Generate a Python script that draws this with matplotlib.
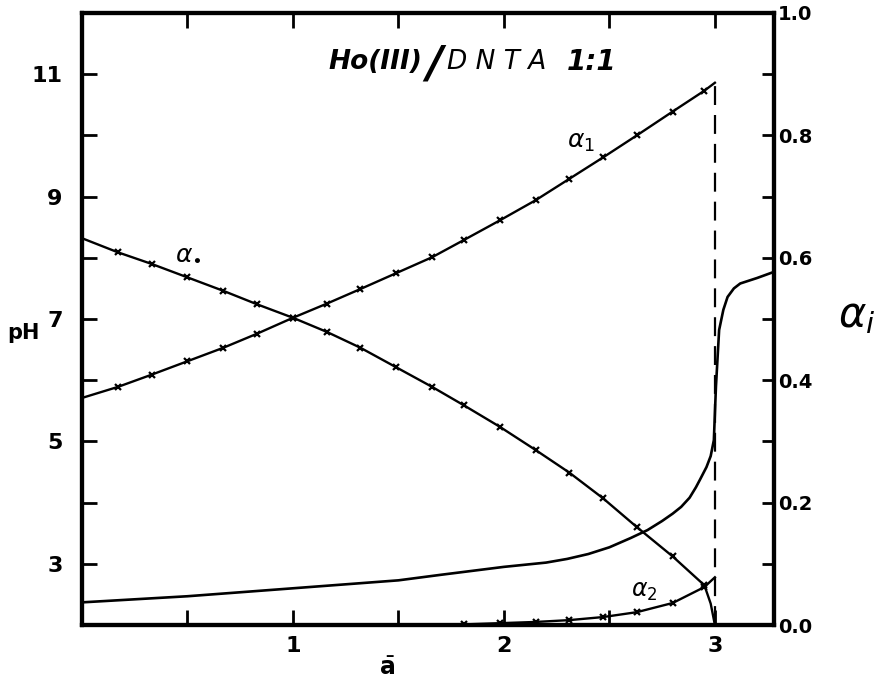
import matplotlib
matplotlib.use('Agg')
import matplotlib.pyplot as plt
from matplotlib.ticker import MultipleLocator

# titration curve (pH against a-bar)
a_ph = [0.0, 0.5, 1.0, 1.5, 1.7, 2.0, 2.2, 2.3, 2.4, 2.5, 2.6, 2.68, 2.75, 2.8, 2.84,
        2.88, 2.91, 2.93, 2.96, 2.98, 2.995, 3.005, 3.02, 3.04, 3.06, 3.09, 3.12, 3.2, 3.28]
ph = [2.37, 2.47, 2.60, 2.73, 2.82, 2.95, 3.02, 3.08, 3.16, 3.27, 3.42, 3.55, 3.70, 3.82, 3.93,
      4.08, 4.25, 4.38, 4.58, 4.76, 5.02, 5.9, 6.82, 7.15, 7.36, 7.50, 7.58, 7.67, 7.77]

# species fractions, marked points share the same a-bar values
a_mk = [0.17, 0.33, 0.5, 0.67, 0.83, 1.0, 1.16, 1.32, 1.49, 1.66,
        1.81, 1.98, 2.15, 2.31, 2.47, 2.63, 2.8, 2.95]
a0 = [0.0] + a_mk + [2.98, 3.0]
alpha0 = [0.632, 0.609, 0.590, 0.568, 0.546, 0.524, 0.502, 0.479, 0.453, 0.421,
          0.389, 0.359, 0.324, 0.286, 0.249, 0.207, 0.160, 0.112, 0.065, 0.035, 0.0]
a1 = [0.0] + a_mk + [3.0]
alpha1 = [0.371, 0.389, 0.409, 0.431, 0.453, 0.476, 0.502, 0.525, 0.549, 0.575,
          0.601, 0.629, 0.661, 0.694, 0.729, 0.764, 0.800, 0.839, 0.873, 0.886]
a2 = [1.66] + a_mk[10:] + [3.0]
alpha2 = [0.0, 0.001, 0.003, 0.005, 0.008, 0.013, 0.021, 0.036, 0.062, 0.078]

a_end = 3.0
alpha_end = 0.886

fig = plt.figure(figsize=(8.88, 6.83), dpi=100)
ax = fig.add_axes([0.0923, 0.0849, 0.7793, 0.8961])
ax2 = ax.twinx()

ax.plot(a_ph, ph, color='black', lw=1.9)
kw = dict(color='black', lw=1.7, marker='x', ms=5, mew=1.6)
ax2.plot(a0, alpha0, markevery=slice(1, len(a_mk) + 1), **kw)
ax2.plot(a1, alpha1, markevery=slice(1, len(a_mk) + 1), **kw)
ax2.plot(a2, alpha2, markevery=slice(1, len(a2) - 1), **kw)
ax2.plot([a_end, a_end], [0, alpha_end], color='black', lw=1.6, dashes=(8.5, 4.5))

ax.set_xlim(0, 3.28)
ax.set_ylim(2, 12)
ax2.set_ylim(0, 1)

ax.set_xticks([1, 2, 3])
ax.xaxis.set_minor_locator(MultipleLocator(0.5))
ax.set_yticks([3, 5, 7, 9, 11])
ax.yaxis.set_minor_locator(MultipleLocator(1))
ax2.set_yticks([0, 0.2, 0.4, 0.6, 0.8, 1.0])
ax2.set_yticklabels(['0.0', '0.2', '0.4', '0.6', '0.8', '1.0'])
ax2.yaxis.set_minor_locator(MultipleLocator(0.1))

ax.tick_params(axis='x', which='both', direction='in', top=True, length=11,
               width=2, labelsize=16, pad=8)
ax.tick_params(axis='y', which='both', direction='in', length=11, width=2,
               labelsize=16, pad=14)
ax2.tick_params(axis='y', which='both', direction='in', length=9, width=2,
                labelsize=14, pad=3)
for lbl in ax.get_xticklabels() + ax.get_yticklabels() + ax2.get_yticklabels():
    lbl.set_fontweight('bold')
for s in list(ax.spines.values()) + list(ax2.spines.values()):
    s.set_linewidth(3)

# axis labels
fig.text(7 / 888, 1 - 333 / 683, 'pH', fontsize=15, fontweight='bold', va='center')
fig.text(387 / 888, 1 - 668 / 683, r'$\bar{\mathbf{a}}$', fontsize=17, ha='center', va='center')
fig.text(838 / 888, 1 - 315 / 683, r'$\alpha_{i}$', fontsize=30, va='center')

# title pieces
ax.text(1.17, 11.2, 'Ho(III)', fontsize=19, fontweight='bold', style='italic', va='center')
ax.text(1.63, 11.15, '/', fontsize=32, fontweight='bold', style='italic', va='center')
ax.text(1.73, 11.2, 'D N T A', fontsize=19, style='italic', va='center')
ax.text(2.30, 11.2, '1:1', fontsize=20, fontweight='bold', style='italic', va='center')

# curve labels
ax2.text(0.44, 0.608, r'$\alpha_{\bullet}$', fontsize=18, va='center')
ax2.text(2.30, 0.79, r'$\alpha_{1}$', fontsize=18, va='center')
ax2.text(2.60, 0.055, r'$\alpha_{2}$', fontsize=17, va='center')

fig.savefig('out.png', dpi=100)
